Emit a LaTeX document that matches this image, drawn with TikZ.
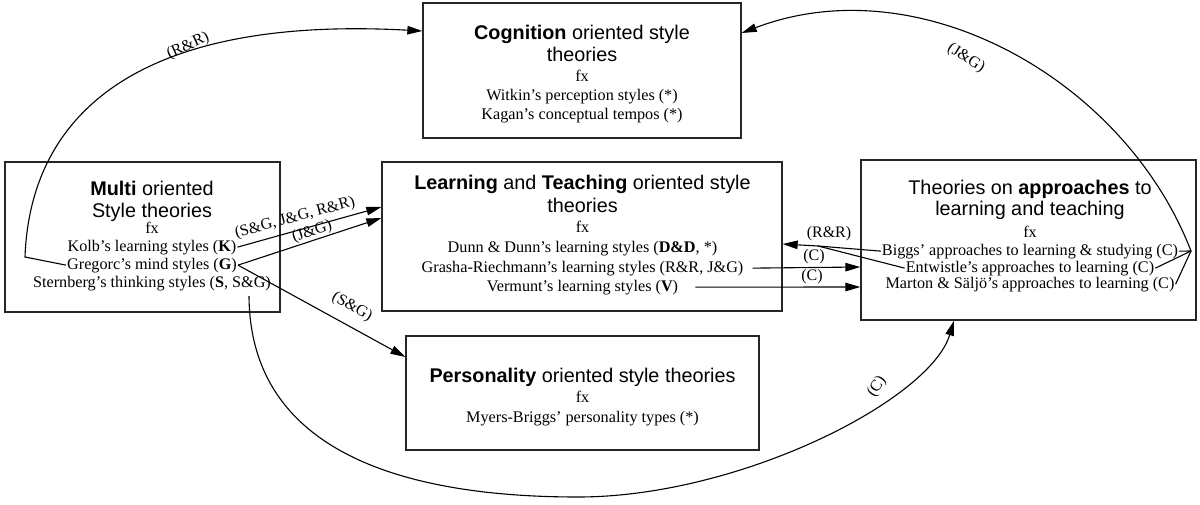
\documentclass[tikz,border=0pt]{standalone}
\usepackage{fontspec}
\setmainfont{Liberation Serif}
\setsansfont{Liberation Sans}
\usetikzlibrary{arrows.meta}
\begin{document}
\begin{tikzpicture}[x=1pt,y=-1pt,
  box/.style={draw=black!85, line width=1.3pt, inner sep=0pt},
  hd/.style={font=\sffamily\fontsize{19.8}{22}\selectfont, inner sep=0pt, anchor=base},
  it/.style={font=\fontsize{16.2}{18}\selectfont, inner sep=1pt, anchor=base},
  lab/.style={font=\fontsize{16}{18}\selectfont, inner sep=0pt},
  con/.style={line width=1.1pt},
  arr/.style={con, -{Triangle[length=15pt,width=8.5pt]}}]
\useasboundingbox (0,0) rectangle (1200,504);
\fill[white] (0,0) rectangle (1200,504);

% boxes
\node[box, minimum width=318pt, minimum height=135pt] (cog) at (582,70.5) {};
\node[box, minimum width=275pt, minimum height=150pt] (multi) at (142.5,237) {};
\node[box, minimum width=400pt, minimum height=149pt] (learn) at (582,236.5) {};
\node[box, minimum width=335pt, minimum height=160pt] (appr) at (1028.5,240) {};
\node[box, minimum width=353pt, minimum height=114pt] (pers) at (582.5,393) {};

% cognition text
\node[hd] (cogA) at (582,39) {\textbf{Cognition} oriented style};
\node[hd] (cogB) at (582,61.5) {theories};
\node[it] (cogfx) at (582,81) {fx};
\node[it] (witkin) at (582,100) {Witkin’s perception styles (*)};
\node[it] (kagan) at (582,119) {Kagan’s conceptual tempos (*)};

% multi text
\node[hd] (mulA) at (152,195) {\textbf{Multi} oriented};
\node[hd] (mulB) at (152,217) {Style theories};
\node[it] (mulfx) at (152,233) {fx};
\node[it] (kolb) at (152,251) {Kolb’s learning styles (\textbf{K})};
\node[it] (greg) at (152,269) {Gregorc’s mind styles (\textbf{G})};
\node[it] (stern) at (152,287) {Sternberg’s thinking styles (\textbf{S}, S\&G)};

% learning text
\node[hd] (lrnA) at (582.5,189) {\textbf{Learning} and \textbf{Teaching} oriented style};
\node[hd] (lrnB) at (582.5,212) {theories};
\node[it] (lrnfx) at (582.5,232) {fx};
\node[it] (dunn) at (582.5,252) {Dunn \& Dunn’s learning styles (\textbf{D\&D}, *)};
\node[it] (grasha) at (582.5,272) {Grasha-Riechmann’s learning styles (R\&R, J\&G)};
\node[it] (verm) at (582.5,291) {Vermunt’s learning styles (\textbf{V})};

% approaches text
\node[hd] (apA) at (1030,194) {Theories on \textbf{approaches} to};
\node[hd] (apB) at (1030,215) {learning and teaching};
\node[it] (apfx) at (1030,237) {fx};
\node[it] (biggs) at (1030,255) {Biggs’ approaches to learning \& studying (C)};
\node[it] (entw) at (1030,272) {Entwistle’s approaches to learning (C)};
\node[it] (marton) at (1030,288) {Marton \& Säljö’s approaches to learning (C)};

% personality text
\node[hd] (psA) at (582.5,382) {\textbf{Personality} oriented style theories};
\node[it] (psfx) at (582.5,402) {fx};
\node[it] (myers) at (582.5,422) {Myers-Briggs’ personality types (*)};

% helper coordinates
\coordinate (rrbend) at (25,257);
\coordinate (jgpt) at (1191,251);
\coordinate (rrm) at (818,246);
\coordinate (cstart) at (249,296);
\coordinate (cbottom) at (578,497);

% R&R top curve: Gregorc -> Cognition
\draw[arr] (greg.west) -- (rrbend) .. controls (30,120) and (130,15) .. (cog.west |- 0,31);
\node[lab, rotate=24] (lRRtop) at (188,46) {(R\&R)};

% J&G top-right curve: approaches -> Cognition
\draw[con] (biggs.east) -- (jgpt);
\draw[con] (entw.east) -- (jgpt);
\draw[con] (marton.east) -- (jgpt);
\draw[arr] (jgpt) .. controls (1125,80) and (920,-35) .. (cog.east |- 0,33);
\node[lab, rotate=-32] (lJGtop) at (966,58) {(J\&G)};

% multi -> learning
\draw[arr] (kolb.east) -- (learn.west |- 0,207);
\node[lab, rotate=15] (lSGJG) at (295,218) {(S\&G, J\&G, R\&R)};
\draw[arr] (greg.east) -- (learn.west |- 0,218);
\node[lab, rotate=18] (lJG) at (312,232) {(J\&G)};

% multi -> personality
\draw[arr] (greg.east) -- (pers.west |- 0,357);
\node[lab, rotate=-30] (lSG) at (352,307) {(S\&G)};

% bottom curve: Sternberg -> approaches
\draw[arr] (cstart) .. controls (250,460) and (420,497) .. (cbottom)
  .. controls (740,497) and (930,400) .. (appr.south -| 954,0);
\node[lab, rotate=55] (lCbot) at (877,387) {(C)};

% approaches -> learning (R&R)
\draw[con] (biggs.west) -- (rrm);
\draw[con] (entw.west) -- (rrm);
\draw[arr] (rrm) -- (learn.east |- 0,244);
\node[lab] (lRR) at (829,234) {(R\&R)};

% learning -> approaches (C)
\draw[arr] ([xshift=8pt]grasha.east) -- (appr.west |- 0,267);
\node[lab] (lC1) at (814,257) {(C)};
\draw[arr] ([xshift=16pt]verm.east) -- (appr.west |- 0,287);
\node[lab] (lC2) at (812,277) {(C)};
\end{tikzpicture}
\end{document}
